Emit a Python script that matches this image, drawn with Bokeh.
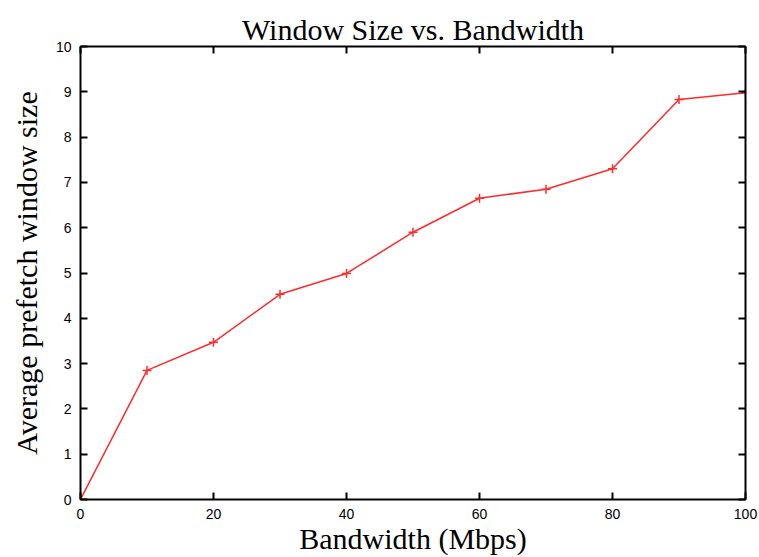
from bokeh.plotting import figure
from bokeh.models import Range1d, LinearAxis, FixedTicker, Title
from bokeh.embed import file_html
from bokeh.resources import INLINE

bandwidth = [0, 10, 20, 30, 40, 50, 60, 70, 80, 90, 100]
window_size = [0, 2.85, 3.47, 4.53, 4.99, 5.90, 6.65, 6.85, 7.30, 8.83, 8.98]
x_ticks = [0, 20, 40, 60, 80, 100]
y_ticks = [0, 1, 2, 3, 4, 5, 6, 7, 8, 9, 10]

p = figure(width=759, height=557, output_backend="svg", toolbar_location=None,
           x_range=Range1d(0, 100), y_range=Range1d(0, 10),
           min_border_left=80, min_border_right=14, min_border_top=46, min_border_bottom=57)
p.title = Title(text="Window Size vs. Bandwidth", align="center",
                text_font="Liberation Serif", text_font_size="30px",
                text_font_style="normal", text_color="black", offset=0, standoff=2)
p.outline_line_color = None
p.xgrid.visible = False
p.ygrid.visible = False
p.background_fill_color = "white"
p.border_fill_color = "white"

def style_axis(ax, labels=True):
    ax.axis_line_width = 2
    ax.axis_line_color = "black"
    ax.major_tick_in = 7
    ax.major_tick_out = 0
    ax.major_tick_line_width = 2
    ax.major_tick_line_color = "black"
    ax.minor_tick_line_color = None
    ax.major_label_text_font = "Liberation Sans"
    ax.major_label_text_font_size = "14px"
    ax.major_label_text_color = "black"
    if not labels:
        ax.major_label_text_font_size = "0px"
        ax.major_label_text_color = None

xa = p.xaxis[0]
xa.ticker = FixedTicker(ticks=x_ticks)
style_axis(xa)
xa.major_label_standoff = 9
xa.axis_label = "Bandwidth (Mbps)"
xa.axis_label_text_font = "Liberation Serif"
xa.axis_label_text_font_size = "30px"
xa.axis_label_text_font_style = "normal"
xa.axis_label_text_color = "black"
xa.axis_label_standoff = 0

ya = p.yaxis[0]
ya.ticker = FixedTicker(ticks=y_ticks)
style_axis(ya)
ya.major_label_standoff = 9
ya.axis_label = "Average prefetch window size"
ya.axis_label_text_font = "Liberation Serif"
ya.axis_label_text_font_size = "30px"
ya.axis_label_text_font_style = "normal"
ya.axis_label_text_color = "black"
ya.axis_label_standoff = 10

top = LinearAxis(ticker=FixedTicker(ticks=x_ticks))
style_axis(top, labels=False)
p.add_layout(top, "above")
right = LinearAxis(ticker=FixedTicker(ticks=y_ticks))
style_axis(right, labels=False)
p.add_layout(right, "right")

p.line(bandwidth, window_size, line_color="#ff2a2a", line_width=1.5)
p.scatter(bandwidth, window_size, marker="cross", size=9, line_color="#ff2a2a", line_width=1.5)

open("out.html", "w").write(file_html(p, INLINE))
